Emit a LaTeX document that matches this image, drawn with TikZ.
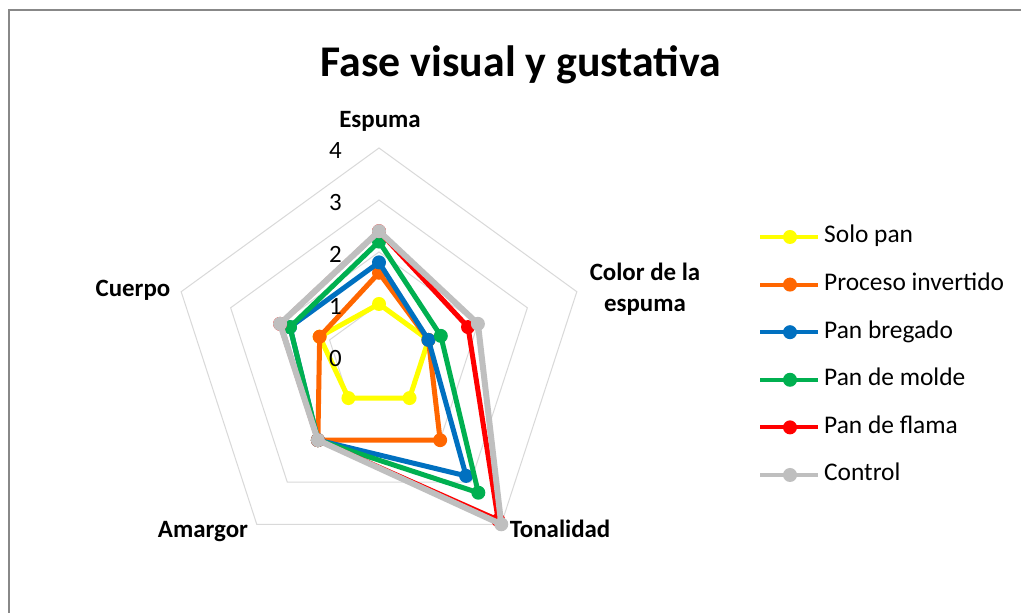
\documentclass[tikz,border=0pt]{standalone}
\usepackage{fontspec}
\setmainfont{Carlito}

\definecolor{solo}{HTML}{FFFF00}
\definecolor{invertido}{HTML}{FF6600}
\definecolor{bregado}{HTML}{0070C0}
\definecolor{molde}{HTML}{00B050}
\definecolor{flama}{HTML}{FF0000}
\definecolor{control}{HTML}{BFBFBF}
\definecolor{rejillagris}{HTML}{D9D9D9}
\definecolor{marcogris}{HTML}{888888}

\tikzset{
  serie/.style={draw=#1, line width=5bp, line join=round},
  rejilla/.style={draw=rejillagris, line width=1bp},
  marco/.style={draw=marcogris, line width=2bp},
  titulo/.style={font=\fontsize{44}{50}\selectfont\bfseries, anchor=base},
  eje/.style={font=\fontsize{25}{31}\selectfont\bfseries, align=center},
  marca/.style={font=\fontsize{25}{28}\selectfont, anchor=base east, inner sep=0pt},
  leyenda/.style={font=\fontsize{25.5}{30}\selectfont, anchor=base west, inner sep=0pt}
}

% color, Espuma, Color de la espuma, Tonalidad, Amargor, Cuerpo
\newcommand{\radar}[6]{%
  \draw[serie=#1] (90:#2*52) -- (18:#3*52) -- (-54:#4*52) -- (-126:#5*52) -- (162:#6*52) -- cycle;
  \foreach \a/\v in {90/#2,18/#3,-54/#4,-126/#5,162/#6}
    \fill[#1] (\a:\v*52) circle (7bp);
}

\begin{document}
\begin{tikzpicture}[x=1bp, y=1bp]
  \useasboundingbox (0,0) rectangle (1021,613);
  \fill[white] (0,0) rectangle (1021,613);
  \draw[marco] (9,603) rectangle (1040,-10);

  \node[titulo] (titulo) at (521,536) {Fase visual y gustativa};

  \begin{scope}[shift={(379,257)}]
    % rejilla
    \foreach \r in {1,...,4}
      \draw[rejilla] (90:52*\r) -- (18:52*\r) -- (-54:52*\r) -- (-126:52*\r) -- (162:52*\r) -- cycle;

    % series
    \radar{solo}{1}{1}{1}{1}{1.2}
    \radar{invertido}{1.6}{1}{2}{2}{1.2}
    \radar{bregado}{1.8}{1}{2.85}{2}{1.8}
    \radar{molde}{2.2}{1.25}{3.25}{2}{1.8}
    \radar{flama}{2.4}{1.8}{3.9}{2}{2}
    \begin{scope}[serie/.append style={line width=6bp}]
      \radar{control}{2.4}{2}{4}{2}{2}
    \end{scope}
  \end{scope}

  % marcas del eje
  \foreach \k in {0,...,4}
    \node[marca] (m\k) at (342,246+52*\k) {\k};

  % etiquetas de los ejes
  \node[eje, anchor=base] (espuma) at (380,485) {Espuma};
  \node[eje] (color) at (645,324) {Color de la\\espuma};
  \node[eje, anchor=base] (tonalidad) at (560,75) {Tonalidad};
  \node[eje, anchor=base] (amargor) at (203,75) {Amargor};
  \node[eje, anchor=base] (cuerpo) at (133,316) {Cuerpo};

  % leyenda
  \foreach \c/\t [count=\i from 0] in {solo/Solo pan, invertido/Proceso invertido,
      bregado/Pan bregado, molde/Pan de molde, flama/Pan de flama, control/Control} {
    \draw[serie=\c, line width=4bp] (760,376-47.6*\i) -- (818,376-47.6*\i);
    \fill[\c] (790,376-47.6*\i) circle (7bp);
    \node[leyenda] (ley\i) at (824,370-47.6*\i) {\t};
  }
\end{tikzpicture}
\end{document}
